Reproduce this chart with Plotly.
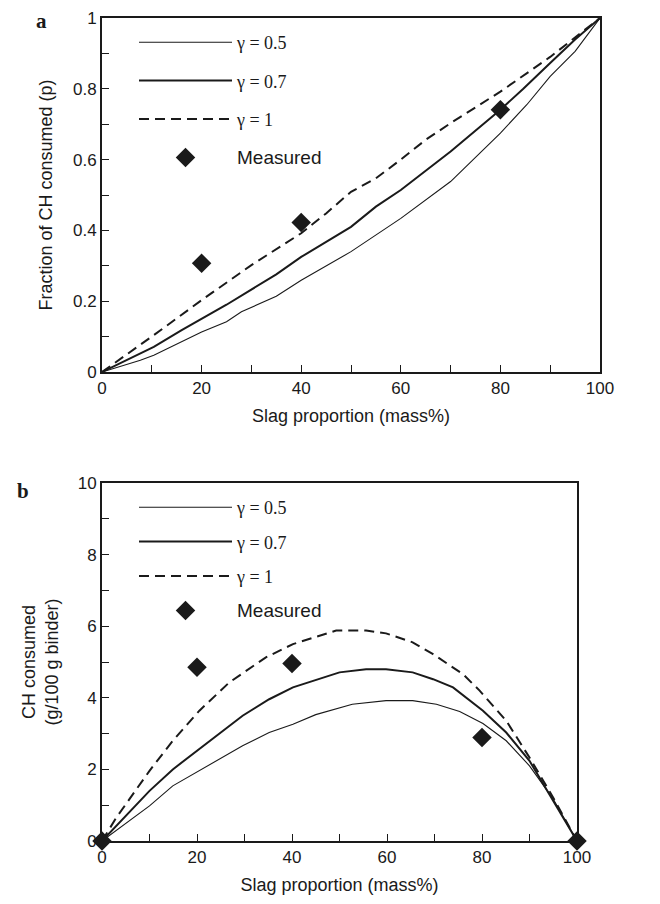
import plotly.graph_objects as go

# ---------------- Panel a data ----------------
xa_g05 = [0, 7.7, 10.4, 20, 25, 28, 35, 40, 50, 60, 70, 80, 85.3, 90, 95, 100]
pa_g05 = [0, 0.033, 0.047, 0.113, 0.142, 0.17, 0.214, 0.259, 0.34, 0.434, 0.538, 0.675, 0.755, 0.835, 0.906, 1]
xa_g07 = [0, 10.4, 16, 20, 25, 35, 40, 50, 55, 60, 70, 80, 84.6, 90, 95, 100]
pa_g07 = [0, 0.071, 0.118, 0.151, 0.19, 0.276, 0.325, 0.41, 0.467, 0.514, 0.623, 0.741, 0.80, 0.873, 0.939, 1]
xa_g1 = [0, 10, 20, 30, 40, 45, 50, 55, 60, 65, 70, 80, 90, 100]
pa_g1 = [0, 0.1, 0.203, 0.302, 0.392, 0.448, 0.509, 0.547, 0.6, 0.656, 0.703, 0.792, 0.89, 1]
xa_meas = [20, 40, 80]
pa_meas = [0.307, 0.422, 0.741]

# ---------------- Panel b data ----------------
xb_g05 = [0, 10, 14.9, 20.5, 29.6, 35.2, 40.2, 45, 52.7, 59.8, 65.4, 70.4, 75.3, 80.2, 85.1, 90, 95, 100]
cb_g05 = [0, 0.98, 1.54, 1.96, 2.66, 3.03, 3.26, 3.53, 3.82, 3.92, 3.92, 3.82, 3.62, 3.28, 2.80, 2.10, 1.17, 0]
xb_g07 = [0, 10, 14.9, 20.5, 29.6, 35.2, 40.2, 50, 55.6, 59.8, 65.4, 69.7, 73.9, 80.2, 85.1, 90, 95, 100]
cb_g07 = [0, 1.40, 2.0, 2.57, 3.50, 3.96, 4.29, 4.71, 4.80, 4.80, 4.71, 4.52, 4.29, 3.64, 3.03, 2.24, 1.12, 0]
xb_g1 = [0, 3, 10, 14.9, 20.5, 26.8, 34.5, 40.2, 49.3, 55.6, 59.8, 65.4, 69.7, 76, 79.5, 85.1, 90, 95, 100]
cb_g1 = [0, 0.65, 1.96, 2.8, 3.64, 4.43, 5.13, 5.50, 5.88, 5.88, 5.80, 5.55, 5.22, 4.66, 4.20, 3.36, 2.33, 1.21, 0]
xb_meas = [0, 20, 40, 80, 100]
cb_meas = [0, 4.85, 4.96, 2.89, 0]

x_tickvals = [0, 10, 20, 30, 40, 50, 60, 70, 80, 90, 100]
x_ticktext = ["0", "", "20", "", "40", "", "60", "", "80", "", "100"]
ya_tickvals = [0, 0.1, 0.2, 0.3, 0.4, 0.5, 0.6, 0.7, 0.8, 0.9, 1.0]
ya_ticktext = ["0", "", "0.2", "", "0.4", "", "0.6", "", "0.8", "", "1"]
yb_tickvals = [0, 1, 2, 3, 4, 5, 6, 7, 8, 9, 10]
yb_ticktext = ["0", "", "2", "", "4", "", "6", "", "8", "", "10"]

names = ["\u03b3 = 0.5", "\u03b3 = 0.7", "\u03b3 = 1",
         "<span style='font-family:Liberation Sans, Arial, sans-serif;font-size:19px'>Measured</span>"]

W, H = 660, 904
SANS = "Liberation Sans, Arial, sans-serif"
SERIF = "Liberation Serif, Times New Roman, serif"
INK = "#1a1a1a"

fig = go.Figure()

def add_panel(xs, ys, xm, ym, xaxis, yaxis, legend):
    styles = [dict(width=1.1, color=INK), dict(width=2.0, color=INK),
              dict(width=2.0, color=INK, dash="10px,6px")]
    for i in range(3):
        fig.add_trace(go.Scatter(x=xs[i], y=ys[i], mode="lines", name=names[i],
                                 line=styles[i], xaxis=xaxis, yaxis=yaxis,
                                 legend=legend, legendgroup=legend + str(i)))
    fig.add_trace(go.Scatter(x=xm, y=ym, mode="markers", name=names[3],
                             marker=dict(symbol="diamond", size=15, color=INK),
                             xaxis=xaxis, yaxis=yaxis, legend=legend,
                             legendgroup=legend + "3", cliponaxis=False))

add_panel([xa_g05, xa_g07, xa_g1], [pa_g05, pa_g07, pa_g1], xa_meas, pa_meas, "x", "y", "legend")
add_panel([xb_g05, xb_g07, xb_g1], [cb_g05, cb_g07, cb_g1], xb_meas, cb_meas, "x2", "y2", "legend2")

axis_common = dict(showline=True, linewidth=2, linecolor=INK, mirror=True, ticks="inside",
                   ticklen=7, tickwidth=1.3, tickcolor=INK, showgrid=False, zeroline=False,
                   automargin=False,
                   tickfont=dict(family=SANS, size=17, color=INK),
                   title_font=dict(family=SANS, size=18, color=INK))

fig.update_layout(
    width=W, height=H, margin=dict(l=0, r=0, t=0, b=0, autoexpand=False),
    paper_bgcolor="white", plot_bgcolor="white", showlegend=True,
    xaxis=dict(domain=[102 / W, 600 / W], range=[0, 100], anchor="y",
               tickvals=x_tickvals, ticktext=x_ticktext,
               title=dict(text="Slag proportion (mass%)", standoff=12), **axis_common),
    yaxis=dict(domain=[1 - 372 / H, 1 - 18 / H], range=[0, 1], anchor="x",
               tickvals=ya_tickvals, ticktext=ya_ticktext,
               title=dict(text="Fraction of CH consumed (p)", standoff=16), **axis_common),
    xaxis2=dict(domain=[102 / W, 577 / W], range=[0, 100], anchor="y2",
                tickvals=x_tickvals, ticktext=x_ticktext,
                title=dict(text="Slag proportion (mass%)", standoff=12), **axis_common),
    yaxis2=dict(domain=[1 - 841 / H, 1 - 483 / H], range=[0, 10], anchor="x2",
                tickvals=yb_tickvals, ticktext=yb_ticktext,
                title=dict(text="CH consumed<br>(g/100 g binder)", standoff=14), **axis_common),
    legend=dict(x=134 / W, y=1 - 24 / H, xanchor="left", yanchor="top",
                bgcolor="rgba(0,0,0,0)", itemwidth=93, tracegroupgap=12,
                font=dict(family=SERIF, size=18, color=INK)),
    legend2=dict(x=134 / W, y=1 - 489 / H, xanchor="left", yanchor="top",
                 bgcolor="rgba(0,0,0,0)", itemwidth=93, tracegroupgap=8,
                 font=dict(family=SERIF, size=18, color=INK)),
    annotations=[
        dict(text="<b>a</b>", x=42 / W, y=1 - 21 / H, xref="paper", yref="paper",
             xanchor="center", yanchor="middle",
             showarrow=False, font=dict(family=SERIF, size=21, color=INK)),
        dict(text="<b>b</b>", x=23 / W, y=1 - 491 / H, xref="paper", yref="paper",
             xanchor="center", yanchor="middle",
             showarrow=False, font=dict(family=SERIF, size=21, color=INK)),
    ],
)

fig.write_html("out.html")
